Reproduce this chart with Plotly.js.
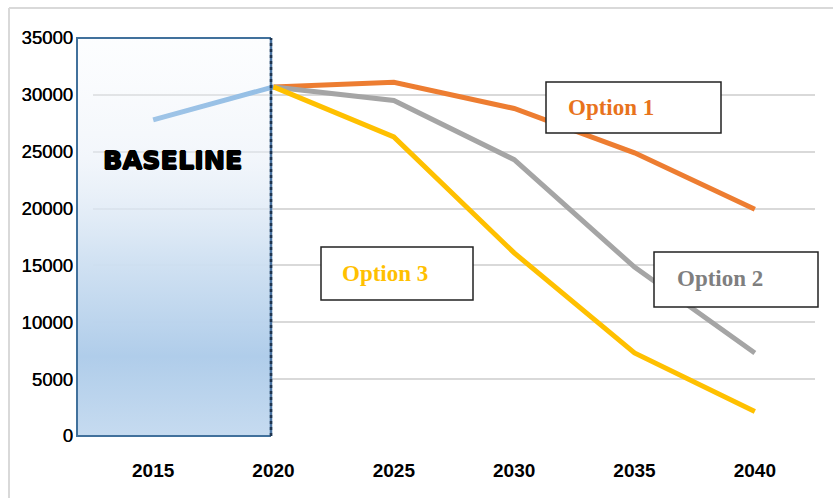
<!DOCTYPE html>
<html>
<head>
<meta charset="utf-8">
<script src="https://cdn.plot.ly/plotly-3.0.1.min.js"></script>
<style>
  html, body { margin: 0; padding: 0; background: #fff; }
  #chart { width: 833px; height: 498px; }
</style>
</head>
<body>
<div id="chart"></div>
<script>
// ---- data ----
const years = ['2015', '2020', '2025', '2030', '2035', '2040'];
const baselineYears = ['2015', '2020'];
const baseline = [27800, 30700];
const optionYears = ['2020', '2025', '2030', '2035', '2040'];
const option1 = [30700, 31100, 28800, 24900, 19950];
const option2 = [30700, 29500, 24300, 14850, 7300];
const option3 = [30700, 26300, 16100, 7300, 2150];
const yTickVals = [0, 5000, 10000, 15000, 20000, 25000, 30000, 35000];
const labels = ['Option 1', 'Option 2', 'Option 3'];
const boxLabel = 'BASELINE';

// ---- layout geometry (pixels -> paper) ----
const W = 833, H = 498, ML = 93, MR = 18, MT = 38, MB = 62;
const PW = W - ML - MR, PH = H - MT - MB;
const px = x => (x - ML) / PW;
const py = y => (H - MB - y) / PH;

const boxL = px(77), boxR = px(271);

const svg = "<svg xmlns='http://www.w3.org/2000/svg' width='100' height='100' viewBox='0 0 100 100' preserveAspectRatio='none'>" +
  "<defs><linearGradient id='g' x1='0' y1='0' x2='0' y2='1'>" +
  "<stop offset='0' stop-color='#f4f8fc' stop-opacity='0.25'/>" +
  "<stop offset='0.3' stop-color='#e8eff8' stop-opacity='0.55'/>" +
  "<stop offset='0.55' stop-color='#d0e1f2' stop-opacity='0.95'/>" +
  "<stop offset='0.8' stop-color='#b0cdea' stop-opacity='1'/>" +
  "<stop offset='1' stop-color='#c6dbf0' stop-opacity='1'/>" +
  "</linearGradient></defs><rect width='100' height='100' fill='url(#g)'/></svg>";
const svgSrc = 'data:image/svg+xml;charset=utf-8,' + encodeURIComponent(svg);

const lineStyle = (c) => ({ color: c, width: 5, shape: 'linear' });

const traces = [
  { x: baselineYears, y: baseline, type: 'scatter', mode: 'lines', line: lineStyle('#5e9ed8'), hoverinfo: 'skip' },
  { x: optionYears, y: option1, type: 'scatter', mode: 'lines', line: lineStyle('#ed7d31'), name: labels[0] },
  { x: optionYears, y: option2, type: 'scatter', mode: 'lines', line: lineStyle('#a5a5a5'), name: labels[1] },
  { x: optionYears, y: option3, type: 'scatter', mode: 'lines', line: lineStyle('#ffc000'), name: labels[2] }
];

const labelBox = (x0, x1, y0, y1) => ({
  type: 'rect', xref: 'paper', yref: 'paper',
  x0: px(x0), x1: px(x1), y0: py(y1), y1: py(y0),
  fillcolor: '#ffffff', line: { color: '#222222', width: 1.5 }, layer: 'above'
});
const labelText = (text, x, y, color) => ({
  text: text, xref: 'paper', yref: 'paper', x: px(x), y: py(y),
  xanchor: 'left', yanchor: 'middle', showarrow: false,
  font: { family: 'Liberation Serif, Times New Roman, serif', size: 23, color: color, weight: 'bold' }
});

const layout = {
  width: W, height: H,
  margin: { l: ML, r: MR, t: MT, b: MB, pad: 0 },
  paper_bgcolor: '#ffffff', plot_bgcolor: '#ffffff',
  showlegend: false,
  xaxis: {
    type: 'category', categoryorder: 'array', categoryarray: years,
    range: [-0.5, years.length - 0.5],
    showgrid: false, zeroline: false, showline: false, ticks: '',
    ticklabelstandoff: 21,
    tickfont: { family: 'Liberation Sans, Arial, sans-serif', size: 19, color: '#000', weight: 'bold' },
    fixedrange: true
  },
  yaxis: {
    range: [0, 35000], tickvals: yTickVals, tickformat: 'd',
    showgrid: true, gridcolor: '#d9d9d9', gridwidth: 2,
    zeroline: false, showline: false, ticks: '',
    ticklabelstandoff: 19,
    tickfont: { family: 'Liberation Sans, Arial, sans-serif', size: 18.5, color: '#000', shadow: '0.3px 0 0 #000' },
    fixedrange: true
  },
  images: [{
    source: svgSrc, xref: 'paper', yref: 'paper',
    x: boxL, y: 1, sizex: boxR - boxL, sizey: 1,
    xanchor: 'left', yanchor: 'top', sizing: 'stretch', layer: 'above'
  }],
  shapes: [
    // outer frame (top and left)
    { type: 'line', xref: 'paper', yref: 'paper', x0: px(9), x1: px(833), y0: py(8), y1: py(8), line: { color: '#d9d9d9', width: 2 }, layer: 'below' },
    { type: 'line', xref: 'paper', yref: 'paper', x0: px(9), x1: px(9), y0: py(8), y1: py(498), line: { color: '#d9d9d9', width: 2 }, layer: 'below' },
    // baseline box border
    { type: 'path', xref: 'paper', yref: 'paper',
      path: `M ${boxR},0 L ${boxL},0 L ${boxL},1 L ${boxR},1`,
      line: { color: '#41719c', width: 2 }, fillcolor: 'rgba(0,0,0,0)', layer: 'above' },
    { type: 'line', xref: 'paper', yref: 'paper', x0: boxR, x1: boxR, y0: 0, y1: 1,
      line: { color: '#4a73a0', width: 2.5 }, layer: 'above' },
    { type: 'line', xref: 'paper', yref: 'paper', x0: boxR, x1: boxR, y0: 0, y1: 1,
      line: { color: '#1f3550', width: 2.5, dash: 'dot' }, layer: 'above' },
    labelBox(546, 721, 82, 133),
    labelBox(654, 818, 252, 307),
    labelBox(321, 473, 247, 300)
  ],
  annotations: [
    { text: boxLabel, xref: 'paper', yref: 'paper', x: px(172), y: py(160), xanchor: 'center', yanchor: 'middle',
      showarrow: false,
      font: { family: 'DejaVu Sans, sans-serif', size: 25.5, color: '#000', weight: 'bold',
              shadow: '0.7px 0 0 #000, -0.7px 0 0 #000, 0 0.7px 0 #000, 0 -0.7px 0 #000' } },
    labelText(labels[0], 566, 107, '#e8731c'),
    labelText(labels[1], 675, 278, '#7f7f7f'),
    labelText(labels[2], 340, 273, '#ffc000')
  ]
};

Plotly.newPlot('chart', traces, layout, { staticPlot: true, displayModeBar: false });
</script>
</body>
</html>
